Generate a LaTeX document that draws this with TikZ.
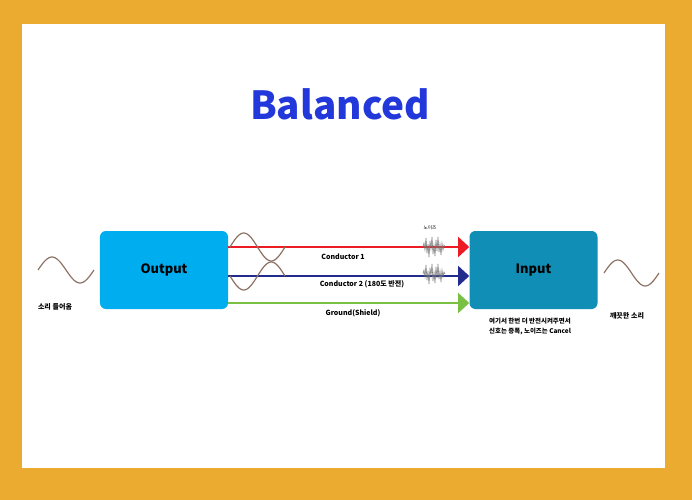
\documentclass[tikz,border=0pt]{standalone}
\usepackage{fontspec}
\setmainfont{Noto Sans CJK KR}
\usepackage{tikz}
\usetikzlibrary{arrows.meta,positioning}

\definecolor{goldbg}{RGB}{234,171,48}
\definecolor{titleblue}{RGB}{35,56,219}
\definecolor{outcyan}{RGB}{0,174,239}
\definecolor{inteal}{RGB}{16,142,182}
\definecolor{wirered}{RGB}{237,28,36}
\definecolor{wireblue}{RGB}{33,44,140}
\definecolor{wiregreen}{RGB}{122,193,67}
\definecolor{wavebrown}{RGB}{140,112,98}

\begin{document}
\begin{tikzpicture}[x=0.03cm,y=-0.03cm,
  box/.style={rounded corners=5pt,minimum width=3.84cm,minimum height=2.34cm,inner sep=0pt,
    font=\fontsize{11}{13}\selectfont\bfseries},
  wire/.style={line width=2pt,-{Triangle[length=9.5pt,width=17pt]}},
  tag/.style={font=\fontsize{6}{7}\selectfont\bfseries,inner sep=0pt},
  wave/.style={wavebrown,line width=1pt,smooth,samples=40},
  noisy/.style={black!55,line width=0.45pt}]

  % background and paper
  \fill[goldbg] (0,0) rectangle (692,500);
  \fill[white] (22,24) rectangle (665,468);
  \useasboundingbox (0,0) rectangle (692,500);

  \node[font=\fontsize{33}{36}\selectfont\bfseries,text=titleblue] (title) at (340,104) {Balanced};

  \node[box,fill=outcyan] (out) at (164,270) {Output};
  \node[box,fill=inteal] (in) at (533.5,270) {Input};

  % wire ends
  \coordinate (r0) at (out.east |- 0,247);
  \coordinate (r1) at (in.west |- 0,247);
  \coordinate (b0) at (out.east |- 0,276);
  \coordinate (b1) at (in.west |- 0,276);
  \coordinate (g0) at (out.east |- 0,303);
  \coordinate (g1) at (in.west |- 0,303);

  \draw[wire,wirered] (r0) -- (r1);
  \draw[wire,wireblue] (b0) -- (b1);
  \draw[wire,wiregreen] (g0) -- (g1);

  \node[tag] (c1) at (343,257) {Conductor 1};
  \node[tag] (c2) at (362,284) {Conductor 2 (180도 반전)};
  \node[tag] (gnd) at (353,313) {Ground(Shield)};

  % input / output sound
  \draw[wave,domain=0:56] plot ({38+\x},{270-13*sin(\x/56*360)});
  \draw[wave,domain=0:55] plot ({604+\x},{273-13*sin(\x/55*360)});
  \node[tag] (inlbl) at (55,307) {소리 들어옴};
  \node[tag] (outlbl) at (627,316) {깨끗한 소리};

  % twisted pair signals
  \draw[wave,domain=0:55] plot ({230+\x},{247-14*sin(\x/55*360)});
  \draw[wave,domain=0:55] plot ({230+\x},{276+14*sin(\x/55*360)});

  % noise on both conductors
  \foreach \yc in {247,274} {
    \draw[noisy,shift={(434,\yc)}] plot coordinates {(-11,0) (-10,-4) (-9,3) (-8,-9) (-7,6)
      (-6,-3) (-5,10) (-4,-6) (-3,2) (-2,-10) (-1,7) (0,-2) (1,9) (2,-7) (3,4) (4,-10) (5,5)
      (6,-3) (7,8) (8,-4) (9,3) (10,-2) (11,0)};
  }
  \node[tag,font=\fontsize{4}{5}\selectfont] (nz) at (430,228) {노이즈};

  \node[tag,font=\fontsize{5.5}{8.5}\selectfont\bfseries,align=left,anchor=north west] (note) at (489,318)
    {여기서 한번 더 반전시켜주면서\\신호는 증폭, 노이즈는 Cancel};

\end{tikzpicture}
\end{document}
